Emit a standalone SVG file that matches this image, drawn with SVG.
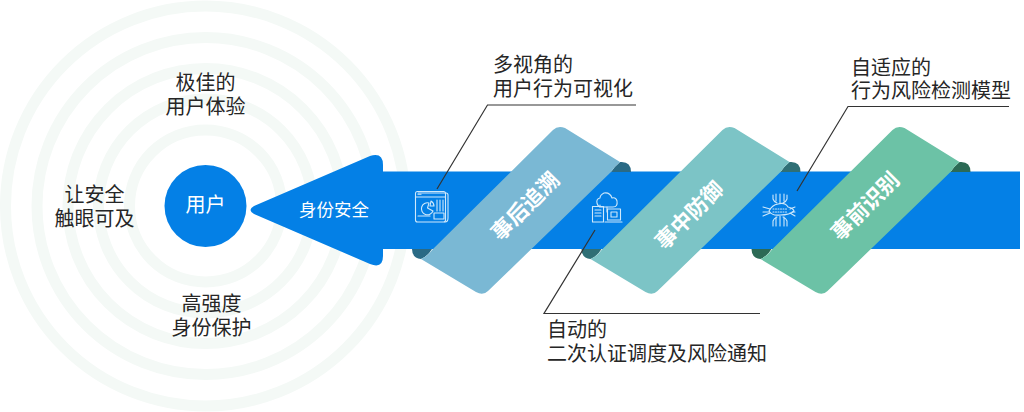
<svg xmlns="http://www.w3.org/2000/svg" xmlns:xlink="http://www.w3.org/1999/xlink" width="1024" height="412" viewBox="0 0 1024 412">
<style>
text{font-family:"Liberation Sans","Noto Sans CJK SC",sans-serif;font-size:20px;fill:#262626;text-anchor:middle}
.l{text-anchor:start}
.w{fill:#fff}
.r{fill:none;stroke:#f4f9f6;stroke-width:11}
.rt{font-weight:700;font-size:21.500px;fill:#fff}
.ic{fill:none;stroke:#cfe8fb;stroke-width:1.1;stroke-linecap:round;stroke-linejoin:round}
.cn{stroke:#333;stroke-width:1.2;fill:none}
</style>
<defs>
<path id="face" d="M432,250L553,130Q558,125 565,128L620,162Q615,166 611,172L488,291Q483,296 476,292L421,259Q428,256 432,250Z"/>
<path id="curl" d="M611,172Q615,166 620,162Q631,161 631,172ZM412,249H432Q428,256 421,259Q412,258 412,249Z"/>
</defs>
<rect width="1024" height="412" fill="#fff"/>
<g id="rings">
<circle class="r" cx="205.500" cy="206" r="200"/>
<circle class="r" cx="205.500" cy="206" r="168.500"/>
<circle class="r" cx="205.500" cy="206" r="137.500"/>
<circle class="r" cx="205.500" cy="206" r="107"/>
<circle class="r" cx="205.500" cy="206" r="76"/>
</g>
<g id="user"><circle cx="205.500" cy="206" r="41" fill="#0480e6"/><text class="w" x="205.500" y="212">用户</text></g>
<g id="arrow"><path d="M1020,171.500H383V165Q383,152 370,156L254,206Q247,210 254,214L370,264Q383,269 383,256V249H1020Z" fill="#0480e6"/><text class="w" x="334" y="216" style="font-size:17.500px">身份安全</text></g>
<g id="ribbon-1"><use xlink:href="#curl" fill="#2a6a85"/><use xlink:href="#face" fill="#7ab8d4"/><text class="rt" transform="translate(525,206) rotate(-45)" y="8">事后追溯</text></g>
<g id="ribbon-2"><use xlink:href="#curl" x="169.500" fill="#2f6f75"/><use xlink:href="#face" x="169.500" fill="#7cc4c6"/><text class="rt" transform="translate(689,215) rotate(-45)" y="8">事中防御</text></g>
<g id="ribbon-3"><use xlink:href="#curl" x="339.500" fill="#2c6a55"/><use xlink:href="#face" x="339.500" fill="#6cc2a6"/><text class="rt" transform="translate(865,206) rotate(-45)" y="8">事前识别</text></g>
<g id="icon-1" class="ic"><path d="M418,193H446Q448,193 448,195V218Q448,222 445,222"/><rect x="415.500" y="191.500" width="30" height="30.500" rx="2"/><path d="M416,197H445"/><path d="M418,194.300H421"/><path d="M429,203A6,6 0 1 0 433,211L427.500,208Z"/><path d="M431,201A6,6 0 0 1 434,206L430,206Z"/><path d="M437,200V211M440,200V211M443,200V211"/><path d="M418,216H430"/><rect x="434" y="213" width="10" height="6"/></g>
<g id="icon-2" class="ic"><path d="M601,207H613Q618,207 617,201Q616,197 612,198Q610,192 604,193Q600,195 600,198Q596,199 597,203Q598,207 601,207Z"/><path d="M607,207V212M600,206V205"/><rect x="592.500" y="206.500" width="11" height="15.500"/><path d="M595,210H601M595,213H601M595,216H601"/><rect x="607.500" y="209" width="13" height="11"/><rect x="611" y="212" width="6" height="5"/><path d="M605,222H622"/></g>
<g id="icon-3" class="ic"><path d="M769,211Q772,205 778,204Q785,202 788,207Q793,208 794,211Q790,215 780,215Q772,216 769,211Z"/><path d="M773,195V199Q774,202 777,203M776,194V201M780,194V203M784,194V201M787,195V199Q786,202 783,203"/><path d="M773,226V221Q774,218 777,217M776,226V217M780,226V216M784,226V217M787,226V221Q786,218 783,217"/><path d="M763,207L770,209M763,212H769M763,216L770,213M795,207L790,209M795,212H792M795,216L790,213"/><path d="M773,209H787M773,212H787" stroke-dasharray="1 1.500"/></g>
<g id="connectors">
<path class="cn" d="M636,105H487.500L437,189"/>
<path class="cn" d="M595,230L544,313.500H760"/>
<path class="cn" d="M1009,106.500H848L797,191"/>
</g>
<g id="labels">
<text x="205.500"><tspan x="205.500" y="90">极佳的</tspan><tspan x="205.500" y="114">用户体验</tspan></text>
<text x="94.500"><tspan x="94.500" y="202">让安全</tspan><tspan x="94.500" y="226">触眼可及</tspan></text>
<text x="211.500"><tspan x="211.500" y="311">高强度</tspan><tspan x="211.500" y="335">身份保护</tspan></text>
<text class="l"><tspan x="493" y="72">多视角的</tspan><tspan x="493" y="96">用户行为可视化</tspan></text>
<text class="l"><tspan x="851" y="74.500">自适应的</tspan><tspan x="851" y="98">行为风险检测模型</tspan></text>
<text class="l"><tspan x="547" y="337">自动的</tspan><tspan x="547" y="361">二次认证调度及风险通知</tspan></text>
</g>
</svg>
